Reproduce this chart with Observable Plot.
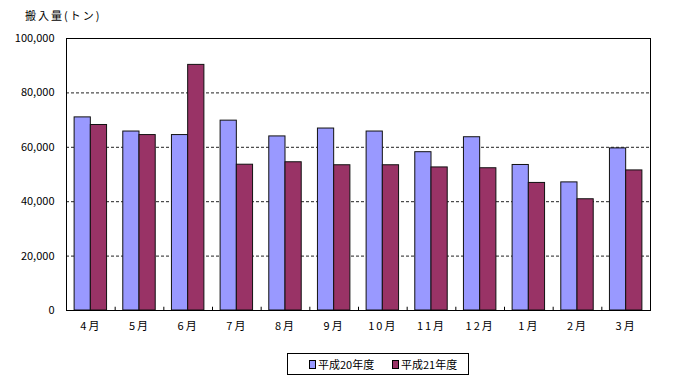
<!DOCTYPE html>
<html><head><meta charset="utf-8">
<script src="https://cdn.jsdelivr.net/npm/d3@7"></script>
<script src="https://cdn.jsdelivr.net/npm/@observablehq/plot@0.6"></script>
<style>
body{margin:0;background:#fff;}
#wrap{position:relative;width:700px;height:386px;font-family:"Noto Sans CJK JP","Noto Sans",sans-serif;color:#000;}
#title{position:absolute;left:25px;top:7px;font-size:11px;line-height:16px;letter-spacing:2px;}
#legend{position:absolute;left:287px;top:353px;width:182px;height:22px;border:1px solid #000;box-sizing:border-box;font-size:11px;display:flex;align-items:center;}
.item{position:absolute;top:3px;display:flex;align-items:center;line-height:14px;}
.sw{width:5px;height:7px;border:1px solid #000;margin-right:2px;}
#plot{position:absolute;left:0;top:0;}
#plot svg g[aria-label="x-axis tick label"] text{letter-spacing:2px;}
</style></head>
<body><div id="wrap"><div id="plot"></div><div id="title">搬入量(トン)</div><div id="legend"></div></div>
<script>
const months = ["4月","5月","6月","7月","8月","9月","10月","11月","12月","1月","2月","3月"];
const seriesNames = ["平成20年度","平成21年度"];
const h20 = [71000,65800,64500,69800,64000,66900,65800,58200,63700,53500,47100,59600];
const h21 = [68200,64500,90300,53600,54500,53400,53400,52600,52300,46900,40900,51500];
const colors = ["#9999FF","#993366"];
const yTicks = [0,20000,40000,60000,80000,100000];

const data = [];
months.forEach((m,i)=>{ data.push({month:m, series:seriesNames[0], value:h20[i]}); data.push({month:m, series:seriesNames[1], value:h21[i]}); });

const W = 700, H = 386, mL = 66, mR = 50, mT = 38, mB = 76;
const bw = (W - mL - mR) / months.length;

const chart = Plot.plot({
  width: W, height: H,
  marginLeft: mL, marginRight: mR, marginTop: mT, marginBottom: mB,
  style: {fontFamily: '"Noto Sans CJK JP","Noto Sans",sans-serif', fontSize: "11px", background: "transparent", color: "#000"},
  x: {domain: months, padding: 0, round: false, label: null, tickSize: 0, tickPadding: 12},
  y: {domain: [0, 100000], ticks: yTicks, tickFormat: d3.format(","), label: null, tickSize: 0, tickPadding: 12},
  marks: [
    Plot.gridY(yTicks.filter(d => d > 0 && d < 100000), {stroke: "#222", strokeOpacity: 1, strokeDasharray: "3,2"}),
    Plot.barY(data.filter(d => d.series === seriesNames[0]), {x: "month", y: "value", fill: colors[0], stroke: "#111", strokeWidth: 1, insetLeft: bw/6, insetRight: bw/2}),
    Plot.barY(data.filter(d => d.series === seriesNames[1]), {x: "month", y: "value", fill: colors[1], stroke: "#111", strokeWidth: 1, insetLeft: bw/2, insetRight: bw/6}),
    Plot.ruleX(months.slice(1), {x: d => d, dx: -bw/2, y1: 0, y2: 1200, stroke: "#000"}),
    Plot.frame({stroke: "#000"})
  ]
});
document.getElementById("plot").appendChild(chart);

const legend = document.getElementById("legend");
const lx = [21, 104];
seriesNames.forEach((s,i)=>{
  const it = document.createElement("div");
  it.className = "item";
  it.style.left = lx[i] + "px";
  const sw = document.createElement("div");
  sw.className = "sw"; sw.style.background = colors[i];
  const t = document.createElement("span"); t.textContent = s;
  it.appendChild(sw); it.appendChild(t);
  legend.appendChild(it);
});
</script></body></html>
